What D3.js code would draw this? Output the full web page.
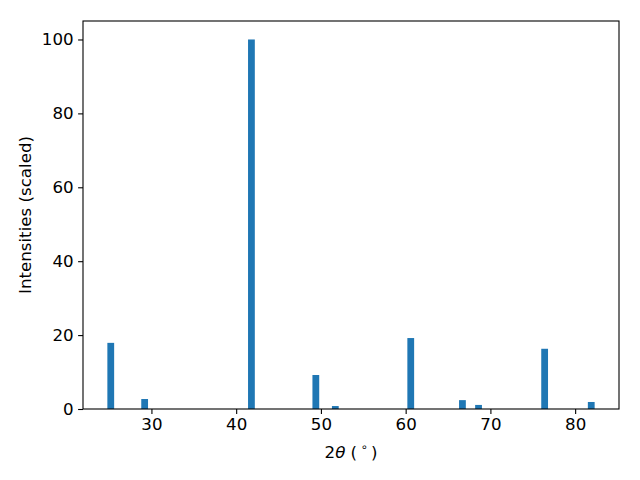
<!DOCTYPE html>
<html><head><meta charset="utf-8">
<script src="https://cdn.jsdelivr.net/npm/d3@7"></script>
<style>body{margin:0;background:#fff}text{font-family:"DejaVu Sans",sans-serif;fill:#000}</style>
</head><body><svg id="c" width="640" height="480"></svg>
<script>
const angles = [25.2, 29.2, 41.8, 49.4, 51.7, 60.6, 66.7, 68.6, 76.4, 81.9];
const intensities = [17.9, 2.7, 100, 9.2, 0.8, 19.2, 2.4, 1.1, 16.3, 1.9];
const xTicks = [30, 40, 50, 60, 70, 80];
const yTicks = [0, 20, 40, 60, 80, 100];
const barWidth = 0.8;

const svg = d3.select("#c");
const L = 83, R = 619, T = 21, B = 409;
const xmin = d3.min(angles) - barWidth/2, xmax = d3.max(angles) + barWidth/2;
const pad = (xmax - xmin) * 0.05;
const x = d3.scaleLinear().domain([xmin - pad, xmax + pad]).range([L, R]);
const y = d3.scaleLinear().domain([0, d3.max(intensities) * 1.05]).range([B, T]);

svg.append("g").selectAll("rect").data(angles).join("rect")
  .attr("x", (d) => x(d - barWidth/2))
  .attr("width", (d) => x(d + barWidth/2) - x(d - barWidth/2))
  .attr("y", (d, i) => y(intensities[i]))
  .attr("height", (d, i) => y(0) - y(intensities[i]))
  .attr("fill", "#1f77b4");

const fs = "16.67px";
const xa = svg.append("g").attr("transform", `translate(0,${B})`)
  .call(d3.axisBottom(x).tickValues(xTicks).tickSize(4.9).tickPadding(4.5).tickFormat(d3.format("d")));
const ya = svg.append("g").attr("transform", `translate(${L},0)`)
  .call(d3.axisLeft(y).tickValues(yTicks).tickSize(4.9).tickPadding(4.5).tickFormat(d3.format("d")));
[xa, ya].forEach(a => {
  a.select(".domain").remove();
  a.selectAll("line").attr("stroke", "#000").attr("stroke-width", 1.1);
  a.selectAll("text").attr("font-size", fs).attr("font-family", "DejaVu Sans").attr("fill", "#000");
});

svg.append("rect").attr("x", L).attr("y", T).attr("width", R - L).attr("height", B - T)
  .attr("fill", "none").attr("stroke", "#000").attr("stroke-width", 1.1);

const xl = svg.append("text").attr("x", (L + R) / 2).attr("y", 458)
  .attr("text-anchor", "middle").attr("font-size", fs);
xl.append("tspan").text("2");
xl.append("tspan").attr("font-style", "italic").text("θ");
xl.append("tspan").text(" (\u2009");
xl.append("tspan").attr("font-size", "11.5px").attr("dy", -7).text("\u2218");
xl.append("tspan").attr("dy", 7).text("\u2009)");

svg.append("text").attr("transform", `translate(31,${(T + B) / 2}) rotate(-90)`)
  .attr("text-anchor", "middle").attr("font-size", fs).text("Intensities (scaled)");
</script></body></html>
